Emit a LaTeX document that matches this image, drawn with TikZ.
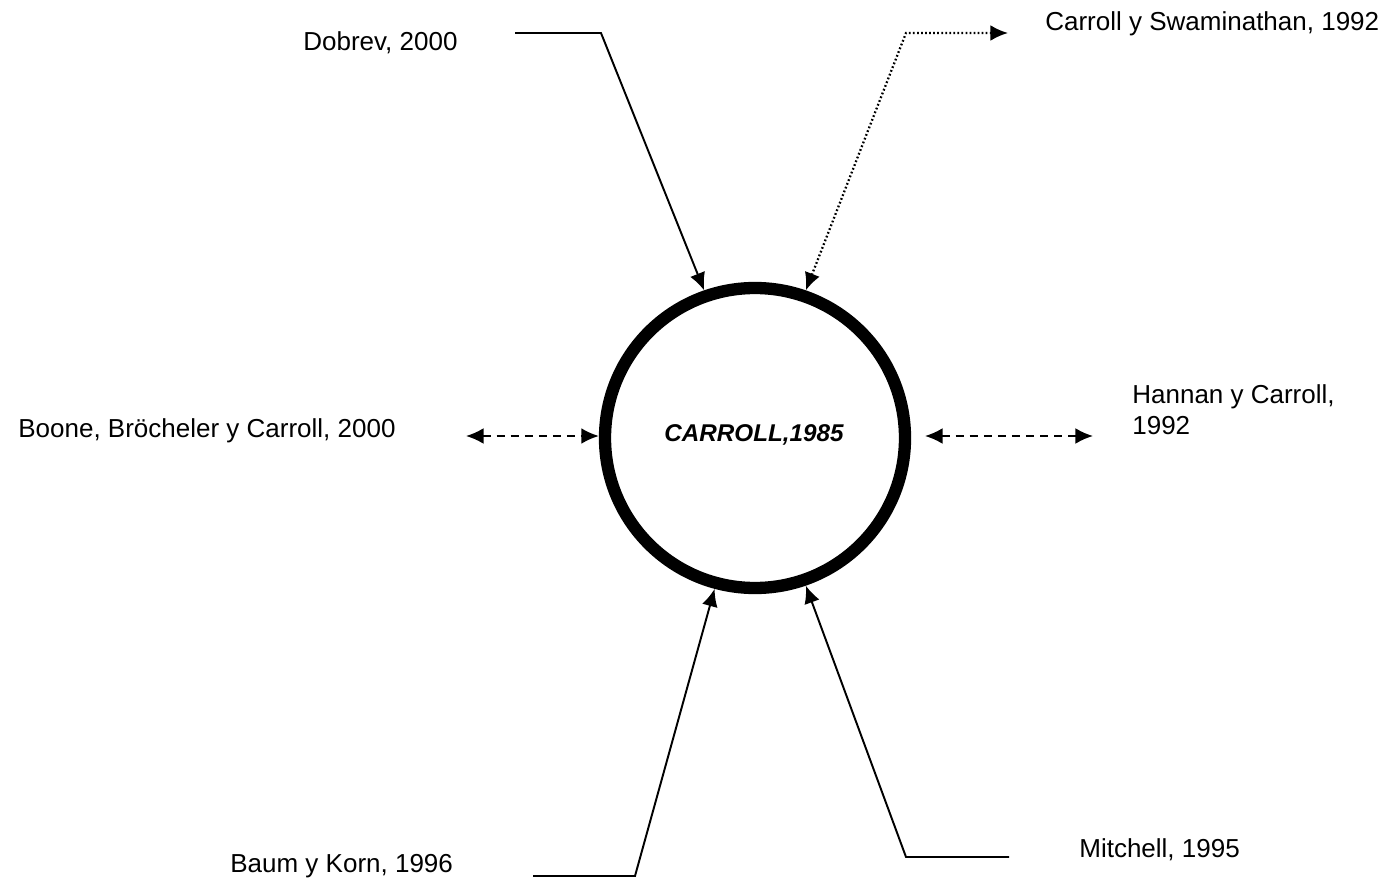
\documentclass[tikz,border=0pt]{standalone}
\usepackage{fontspec}
\setmainfont{Liberation Sans}
\usepackage{tikz}
\usetikzlibrary{calc,
	positioning,
	shapes,
	arrows.meta}
\tikzstyle{lbl}=[inner sep=0, anchor=base west, font=\fontsize{14.8}{17.1}\selectfont]
\tikzstyle{ln}=[line width=1.1pt]
\tikzstyle{tip}=[-{Latex[length=10pt, width=9pt]}]
\tikzstyle{ttip}=[{Latex[length=10pt, width=9pt]}-{Latex[length=10pt, width=9pt]}]
\tikzstyle{dsh}=[line width=1.1pt, dash pattern=on 4.5pt off 3.5pt]
\tikzstyle{dot}=[line width=1.3pt, dash pattern=on 1pt off 1.3pt]

\begin{document}
\begin{tikzpicture}[x=0.02cm, y=-0.02cm]
                \useasboundingbox (0,0) rectangle (1394,882);
                % centre
                \node[circle, draw, line width=7pt, minimum size=300*0.02cm, inner sep=0] (carroll) at (755,438) {};
                \node[inner sep=0, anchor=base, font=\fontsize{13.8}{16}\selectfont\bfseries\itshape] (carrolltxt) at (754,441) {CARROLL,1985};
                % labels
                \node[lbl] (dobrev) at (303,51) {Dobrev, 2000};
                \node[lbl] (swami) at (1045,31) {Carroll y Swaminathan, 1992};
                \node[lbl] (boone) at (18,437) {Boone, Br\"ocheler y Carroll, 2000};
                \node[lbl, align=left] (hannan) at (1132,434) {Hannan y Carroll,\\1992};
                \node[lbl] (baum) at (230,872) {Baum y Korn, 1996};
                \node[lbl] (mitchell) at (1079,857) {Mitchell, 1995};
                % connector ends
                \coordinate (dobrev-a) at (515,33);
                \coordinate (dobrev-b) at (601,33);
                \coordinate (swami-a) at (906,33);
                \coordinate (swami-b) at (1008,33);
                \coordinate (boone-a) at (466,436);
                \coordinate (hannan-a) at (925,436);
                \coordinate (hannan-b) at (1093,436);
                \coordinate (baum-a) at (533,876);
                \coordinate (baum-b) at (635,876);
                \coordinate (mitchell-a) at (1009,857);
                \coordinate (mitchell-b) at (906,857);
                % connectors
                \draw[ln, tip] (dobrev-a) -- (dobrev-b) -- (carroll.109);
                \draw[dot, ttip] (carroll.71) -- (swami-a) -- (swami-b);
                \draw[dsh, ttip] (boone-a) -- (boone-a -| carroll.west);
                \draw[dsh, ttip] (hannan-a) -- (hannan-b);
                \draw[ln, tip] (baum-a) -- (baum-b) -- (carroll.255);
                \draw[ln, tip] (mitchell-a) -- (mitchell-b) -- (carroll.289);
\end{tikzpicture}
\end{document}
